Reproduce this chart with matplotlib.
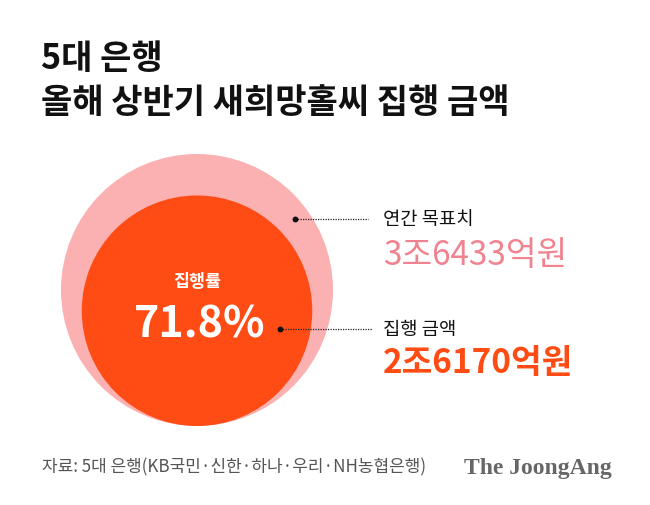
import matplotlib
matplotlib.use("Agg")
import matplotlib.pyplot as plt
from matplotlib.patches import Circle
import numpy as np

plt.rcParams['font.family'] = ['Noto Sans CJK KR', 'DejaVu Sans']

# ---- data ----
title_lines = ["5대 은행", "올해 상반기 새희망홀씨 집행 금액"]
categories = ["연간 목표치", "집행 금액"]
values_eok = [36433, 26170]          # 억원
value_labels = ["3조6433억원", "2조6170억원"]
rate_label = "집행률"
rate_value = 71.8
source_text = "자료: 5대 은행(KB국민·신한·하나·우리·NH농협은행)"
brand_text = "The JoongAng"

# ---- styles ----
PINK = "#FBB0B2"
ORANGE = "#FF4C14"
PINK_TEXT = "#F0838F"
W, H = 650, 506

fig = plt.figure(figsize=(W / 100, H / 100), dpi=100)
ax = fig.add_axes([0, 0, 1, 1])
ax.set_xlim(0, W)
ax.set_ylim(H, 0)
ax.set_aspect('equal')
ax.axis('off')

# circles: area proportional, bottom aligned
cx, bottom, r_max = 197, 427, 136
radii = [r_max * np.sqrt(v / values_eok[0]) for v in values_eok]
colors = [PINK, ORANGE]
for r, c in zip(radii, colors):
    ax.add_patch(Circle((cx, bottom - r), r, facecolor=c, edgecolor='none', zorder=1))

# center labels
ax.text(cx, 282, rate_label, color='white', fontsize=12.5, fontweight='bold',
        ha='center', va='center', zorder=3)
ax.text(cx + 3, 325, f"{rate_value}%", color='white', fontsize=31, fontweight='bold',
        ha='center', va='center', zorder=3)

# leader lines + dots
dots = [(295, 220), (280, 330)]
line_end = [368, 372]
label_y = [220, 330]
value_y = [256, 364]
value_colors = [PINK_TEXT, ORANGE]
value_weights = ['medium', 'bold']
for (dx, dy), le, ly, vy, cat, vl, vc, vw in zip(dots, line_end, label_y, value_y,
                                                categories, value_labels,
                                                value_colors, value_weights):
    ax.plot([dx, le], [dy, dy], color='#222222', lw=0.9, ls=(0, (1, 1)), zorder=4)
    ax.scatter([dx], [dy], s=18, color='#111111', zorder=5, linewidths=0)
    ax.text(383, ly, cat, color='#111111', fontsize=13.5, fontweight='medium',
            ha='left', va='center', zorder=5)
    ax.text(383, vy, vl, color=vc, fontsize=24, fontweight=vw,
            ha='left', va='center', zorder=5)

# title
ax.text(41, 58, title_lines[0], color='#111111', fontsize=24.5, fontweight='black',
        ha='left', va='center')
ax.text(41, 102, title_lines[1], color='#111111', fontsize=24.5, fontweight='black',
        ha='left', va='center')

# footer
ax.text(42, 467, source_text, color='#555555', fontsize=12.2, ha='left', va='center')
ax.text(612, 469, brand_text, color='#666666', fontsize=17, fontweight='bold',
        family='Liberation Serif', ha='right', va='center')

fig.savefig("out.png", dpi=100, facecolor='white')
